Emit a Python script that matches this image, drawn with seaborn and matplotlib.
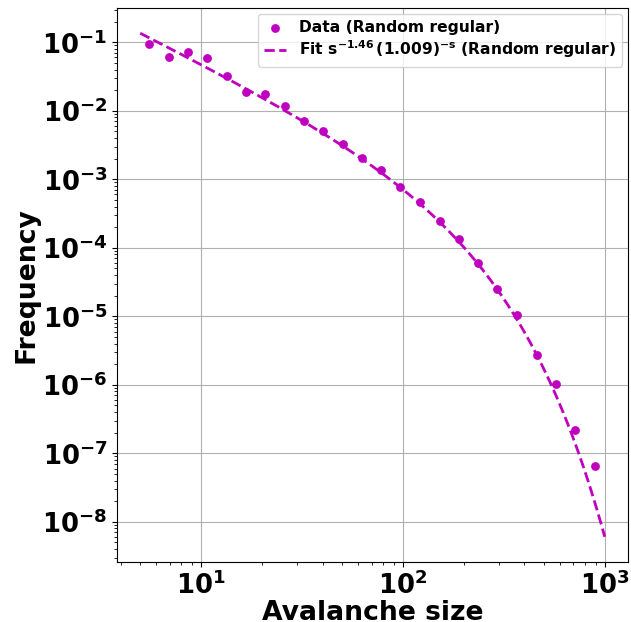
import numpy as np
import pandas as pd
import matplotlib
matplotlib.use("Agg")
import matplotlib.pyplot as plt
import seaborn as sns

# Data
sizes = [5.53, 6.95, 8.62, 10.7, 13.4, 16.7, 20.7, 26.1, 32.4, 40.2, 50.5, 62.7,
         77.8, 96.6, 121, 152, 189, 235, 292, 366, 460, 571, 710, 891]
freqs = [0.0935, 0.0604, 0.0714, 0.0583, 0.0319, 0.0186, 0.0174, 0.0116, 0.0070,
         0.0050, 0.00323, 0.00208, 0.00135, 7.85e-4, 4.73e-4, 2.50e-4, 1.36e-4,
         6.08e-5, 2.53e-5, 1.05e-5, 2.75e-6, 1.03e-6, 2.2e-7, 6.5e-8]

# Fit parameters (legend: s^-1.46 (1.009)^-s)
fit_amp = 1.49
fit_alpha = 1.46
fit_base = 1.00928
fit_smin, fit_smax = 5, 1000

color = "#bf00bf"

df = pd.DataFrame({"size": sizes, "freq": freqs})
s_fit = np.linspace(fit_smin, fit_smax, 1000)
df_fit = pd.DataFrame({"size": s_fit,
                       "freq": fit_amp * s_fit ** (-fit_alpha) * fit_base ** (-s_fit)})

fig, ax = plt.subplots(figsize=(6.31, 6.22), dpi=100)
fig.subplots_adjust(left=0.1854, right=0.9952, top=0.9871, bottom=0.0965)

sns.scatterplot(data=df, x="size", y="freq", ax=ax, color=color, s=40,
                linewidth=0, label="Data (Random regular)", zorder=3)
sns.lineplot(data=df_fit, x="size", y="freq", ax=ax, color=color, linestyle="--",
             linewidth=2,
             label=r"Fit $\mathbf{s^{-1.46}\,(1.009)^{-s}}$ (Random regular)",
             zorder=2)

ax.set_xscale("log")
ax.set_yscale("log")
ax.grid(True, which="major", color="#b0b0b0", linewidth=0.8)
ax.set_axisbelow(True)

ax.set_xlabel("Avalanche size", fontsize=19.2, fontweight="bold", labelpad=0)
ax.set_ylabel("Frequency", fontsize=19.2, fontweight="bold", labelpad=2)
ax.tick_params(axis="both", which="major", labelsize=18.6)
for lab in ax.get_xticklabels() + ax.get_yticklabels():
    lab.set_fontweight("bold")

leg = ax.legend(loc="upper right", prop={"weight": "bold", "size": 11.2},
                labelspacing=0.2, borderaxespad=0.4, handlelength=1.4)

fig.savefig("out.png", dpi=100)
